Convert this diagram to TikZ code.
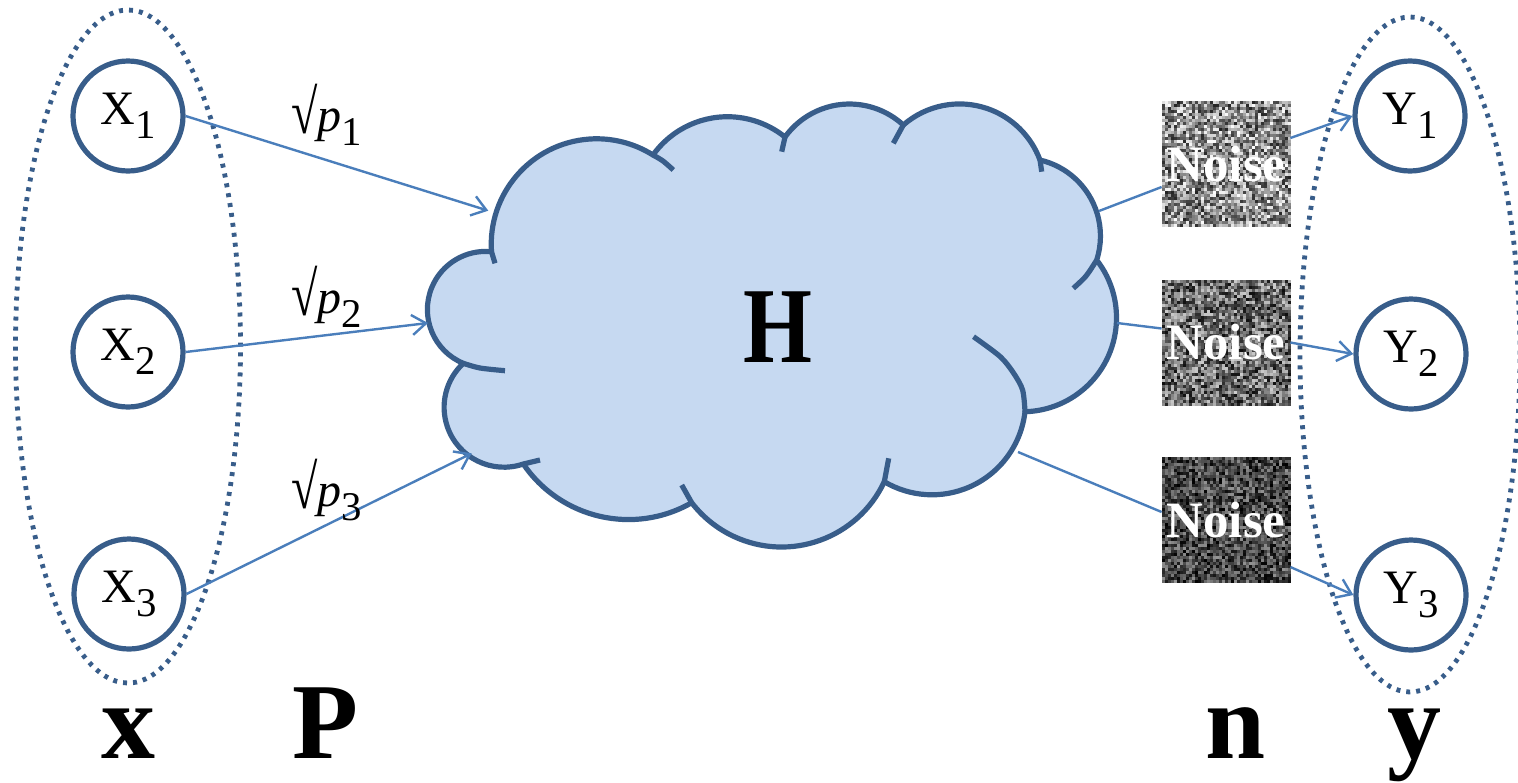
\documentclass[tikz,border=0pt]{standalone}
\usepackage{fontspec}
\setmainfont{Liberation Serif}
\usepackage{graphicx}
\usetikzlibrary{arrows.meta}
\definecolor{edgeblue}{HTML}{385D8A}
\definecolor{cloudblue}{HTML}{C6D9F1}
\definecolor{linkblue}{HTML}{4A7EBB}
\newcommand{\lowsub}[1]{\raisebox{-0.3em}{\scalebox{0.85}{#1}}}
\newcommand{\tallroot}{\raisebox{-0.05em}{\scalebox{1}[1.3]{√}}}
% circle through three points (pixel coords), stored as arc parameters
\newcommand{\mklobe}[7]{%
  \pgfmathsetmacro\lbx{(#4-#2)/100}%
  \pgfmathsetmacro\lby{(#5-#3)/100}%
  \pgfmathsetmacro\lcx{(#6-#2)/100}%
  \pgfmathsetmacro\lcy{(#7-#3)/100}%
  \pgfmathsetmacro\ldd{2*(\lbx*\lcy-\lby*\lcx)}%
  \pgfmathsetmacro\lux{(\lcy*(\lbx*\lbx+\lby*\lby)-\lby*(\lcx*\lcx+\lcy*\lcy))/\ldd}%
  \pgfmathsetmacro\luy{(\lbx*(\lcx*\lcx+\lcy*\lcy)-\lcx*(\lbx*\lbx+\lby*\lby))/\ldd}%
  \pgfmathsetmacro\lr{100*sqrt(\lux*\lux+\luy*\luy)}%
  \pgfmathsetmacro\lsa{atan2(-\luy,-\lux)}%
  \pgfmathsetmacro\lma{atan2(\lby-\luy,\lbx-\lux)}%
  \pgfmathsetmacro\lea{atan2(\lcy-\luy,\lcx-\lux)}%
  \pgfmathsetmacro\lee{mod(\lea-\lsa+720,360)}%
  \pgfmathsetmacro\lmm{mod(\lma-\lsa+720,360)}%
  \pgfmathsetmacro\ldelta{\lmm<\lee ? \lee : \lee-360}%
  \expandafter\xdef\csname lb#1sa\endcsname{\lsa}%
  \expandafter\xdef\csname lb#1dl\endcsname{\ldelta}%
  \expandafter\xdef\csname lb#1r\endcsname{\lr}%
}
\begin{document}
\begin{tikzpicture}[x=0.5pt,y=-0.5pt,
  varnode/.style={circle, draw=edgeblue, line width=2.6pt, minimum size=55pt, inner sep=0pt, font=\fontsize{24}{28}\selectfont},
  noisebox/.style={rectangle, minimum width=64pt, minimum height=63pt, inner sep=0pt, text=white, font=\bfseries\fontsize{25.5}{28}\selectfont},
  groupring/.style={draw=edgeblue, line width=2.4pt, dash pattern=on 2pt off 3pt},
  cloudline/.style={draw=edgeblue, line width=2.6pt, line join=round},
  linkarrow/.style={draw=linkblue, line width=1.2pt, -{Straight Barb[length=7pt,width=10pt]}},
  linkplain/.style={draw=linkblue, line width=1.2pt},
  weightlabel/.style={font=\fontsize{24}{28}\selectfont, inner sep=0pt},
  biglabel/.style={font=\bfseries\fontsize{54}{60}\selectfont, inner sep=0pt, anchor=base}
]
\useasboundingbox (0,0) rectangle (1518,782);

% group ellipses
\draw[groupring] (128,346.5) ellipse [x radius=56.25pt, y radius=168.25pt];
\draw[groupring] (1410,354.5) ellipse [x radius=55pt, y radius=168.75pt];

% cloud lobes: start, a point on the lobe, end
\mklobe{A}{491.5}{251.7}{543.3}{153.3}{653}{155}
\mklobe{B}{653}{155}{720}{117}{785}{137}
\mklobe{C}{785}{137}{850}{104}{903.3}{125}
\mklobe{D}{903.3}{125}{963.3}{104}{1040}{160}
\mklobe{E}{1040}{160}{1093.3}{203.3}{1096.7}{260}
\mklobe{F}{1096.7}{260}{1116.5}{320}{1025}{411.7}
\mklobe{G}{1025}{411.7}{982.5}{480}{884.3}{481.7}
\mklobe{H}{884.3}{481.7}{781.6}{547}{691.7}{502.7}
\mklobe{I}{691.7}{502.7}{580}{510}{523.3}{464}
\mklobe{J}{523.3}{464}{450}{433.3}{463.3}{363.3}
\mklobe{K}{463.3}{363.3}{428.3}{320}{491.5}{251.7}
\filldraw[cloudline, fill=cloudblue] (491.5,251.7)
  arc[start angle=\lbAsa, delta angle=\lbAdl, radius=\lbAr]
  arc[start angle=\lbBsa, delta angle=\lbBdl, radius=\lbBr]
  arc[start angle=\lbCsa, delta angle=\lbCdl, radius=\lbCr]
  arc[start angle=\lbDsa, delta angle=\lbDdl, radius=\lbDr]
  arc[start angle=\lbEsa, delta angle=\lbEdl, radius=\lbEr]
  arc[start angle=\lbFsa, delta angle=\lbFdl, radius=\lbFr]
  arc[start angle=\lbGsa, delta angle=\lbGdl, radius=\lbGr]
  arc[start angle=\lbHsa, delta angle=\lbHdl, radius=\lbHr]
  arc[start angle=\lbIsa, delta angle=\lbIdl, radius=\lbIr]
  arc[start angle=\lbJsa, delta angle=\lbJdl, radius=\lbJr]
  arc[start angle=\lbKsa, delta angle=\lbKdl, radius=\lbKr]
  -- cycle;
% inner arcs of the cloud
\draw[cloudline] (491.5,251.7) -- (495,263.3);
\draw[cloudline] plot[smooth] coordinates {(653,155) (663,161) (673.3,170)};
\draw[cloudline] (785,137) -- (781.7,151.7);
\draw[cloudline] (903.3,125) -- (893.3,143.3);
\draw[cloudline] (1040,160) -- (1041.7,171.7);
\draw[cloudline] plot[smooth] coordinates {(1096.7,260) (1086,276) (1073.3,288.3)};
\draw[cloudline] plot[smooth] coordinates {(1025,411.7) (1022.6,390) (1013.7,373.3) (1000.3,356.7) (973.5,336.7)};
\draw[cloudline] (884.3,481.7) -- (888.7,458.3);
\draw[cloudline] (691.7,502.7) -- (681.7,485);
\draw[cloudline] (523.3,464) -- (540,460);
\draw[cloudline] plot[smooth] coordinates {(463.3,363.3) (480,368) (505,370.7)};
\node[font=\bfseries\fontsize{54}{60}\selectfont, inner sep=0pt] (H) at (778,327) {\scalebox{0.82}[1]{H}};

% attachment points on the cloud
\coordinate (cx1) at (488.3,210.7);
\coordinate (cx2) at (428,323);
\coordinate (cx3) at (471.7,453.3);
\coordinate (cy1) at (1099,211);
\coordinate (cy2) at (1117,323);
\coordinate (cy3) at (1018,452);

% noise textures
\pgfmathsetseed{7}
\foreach \by/\m/\s in {101/56/85, 280/43/75, 457/29/58} {
  \foreach \i in {0,...,42} {
    \foreach \j in {0,...,41} {
      \pgfmathsetmacro\g{max(0,min(100,\m+(rnd-0.5)*\s))}
      \fill[white!\g!black] ({1162+\i*3},{\by+\j*3}) rectangle ++(3.3,3.3);
    }
  }
}
\node[noisebox] (n1) at (1226,164) {Noise};
\node[noisebox] (n2) at (1226,342.5) {Noise};
\node[noisebox] (n3) at (1226,520) {Noise};

% variable nodes
\node[varnode] (x1) at (128,116) {X\lowsub{1}};
\node[varnode] (x2) at (128,352) {X\lowsub{2}};
\node[varnode] (x3) at (129,594) {X\lowsub{3}};
\node[varnode] (y1) at (1410,116) {Y\lowsub{1}};
\node[varnode] (y2) at (1411,354) {Y\lowsub{2}};
\node[varnode] (y3) at (1411,595) {Y\lowsub{3}};

% connectors
\draw[linkarrow] (x1.east) -- (cx1);
\draw[linkarrow] (x2.east) -- (cx2);
\draw[linkarrow] (x3.east) -- (cx3);
\draw[linkplain] (cy1) -- ([yshift=-11.5pt]n1.west);
\draw[linkplain] (cy2) -- ([yshift=7pt]n2.west);
\draw[linkplain] (cy3) -- ([yshift=4pt]n3.west);
\draw[linkarrow] ([yshift=13pt]n1.east) -- (y1.west);
\draw[linkarrow] (n2.east) -- (y2.west);
\draw[linkarrow] ([yshift=-23.5pt]n3.east) -- (y3.west);

% weights
\node[weightlabel] (w1) at (327,115) {\tallroot\textit{p}\lowsub{1}};
\node[weightlabel] (w2) at (327,297) {\tallroot\textit{p}\lowsub{2}};
\node[weightlabel] (w3) at (327,490) {\tallroot\textit{p}\lowsub{3}};

% bottom labels
\node[biglabel] (lx) at (128,758) {x};
\node[biglabel] (lP) at (325,758) {P};
\node[biglabel] (ln) at (1236,758) {n};
\node[biglabel] (ly) at (1414,758) {y};
\end{tikzpicture}
\end{document}
